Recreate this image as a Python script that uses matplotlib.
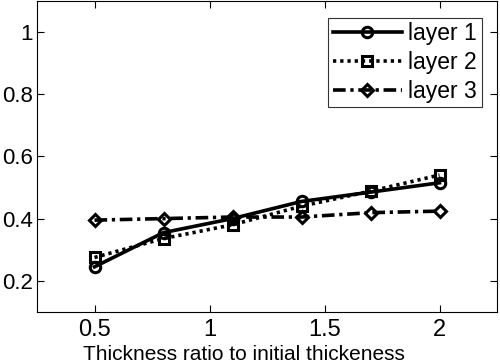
import matplotlib
matplotlib.use("Agg")
import matplotlib.pyplot as plt

plt.rcParams['font.family'] = ['Liberation Sans', 'DejaVu Sans']

x = [0.5, 0.8, 1.1, 1.4, 1.7, 2.0]
layer1 = [0.245, 0.355, 0.400, 0.455, 0.485, 0.515]
layer2 = [0.275, 0.336, 0.380, 0.440, 0.488, 0.540]
layer3 = [0.395, 0.400, 0.405, 0.405, 0.419, 0.424]
labels = ['layer 1', 'layer 2', 'layer 3']
xticks = [0.5, 1, 1.5, 2]
xticklabels = ['0.5', '1', '1.5', '2']
yticks = [0.2, 0.4, 0.6, 0.8, 1.0]
yticklabels = ['0.2', '0.4', '0.6', '0.8', '1']
xlabel = 'Thickness ratio to initial thickeness'

fig = plt.figure(figsize=(5.0, 3.64), dpi=100)
ax = fig.add_axes([0.074, 0.143, 0.920, 0.855])

lw = 2.6
ms = 7.5
ax.plot(x, layer1, linestyle='-', marker='o', color='black', lw=lw,
        markersize=ms, markerfacecolor='none', markeredgewidth=2.2, label=labels[0])
ax.plot(x, layer2, linestyle=(0, (0.9, 1.1)), marker='s', color='black', lw=lw,
        markersize=ms, markerfacecolor='none', markeredgewidth=2.2, label=labels[1])
ax.plot(x, layer3, linestyle=(0, (3.5, 1.3, 0.9, 1.3)), marker='D', color='black', lw=lw,
        markersize=ms - 1, markerfacecolor='none', markeredgewidth=2.2, label=labels[2])

ax.set_xlim(0.25, 2.25)
ax.set_ylim(0.1, 1.1)
ax.set_xticks(xticks)
ax.set_xticklabels(xticklabels)
ax.set_yticks(yticks)
ax.set_yticklabels(yticklabels)
ax.tick_params(direction='in', top=True, right=True, length=5, width=0.8)
ax.tick_params(axis='x', labelsize=17, pad=5)
ax.tick_params(axis='y', labelsize=16, pad=3)
ax.set_xlabel(xlabel, fontsize=15, labelpad=0)
ax.xaxis.set_label_coords(0.449, -0.105)
for s in ax.spines.values():
    s.set_linewidth(0.8)

leg = ax.legend(loc='upper right', bbox_to_anchor=(0.967, 0.945), fontsize=16.5,
                frameon=True, fancybox=False, edgecolor='black',
                handlelength=3.0, handletextpad=0.3, borderpad=0.2,
                labelspacing=0.25, borderaxespad=0.0)
leg.get_frame().set_linewidth(0.8)

fig.savefig('out.png', dpi=100)
